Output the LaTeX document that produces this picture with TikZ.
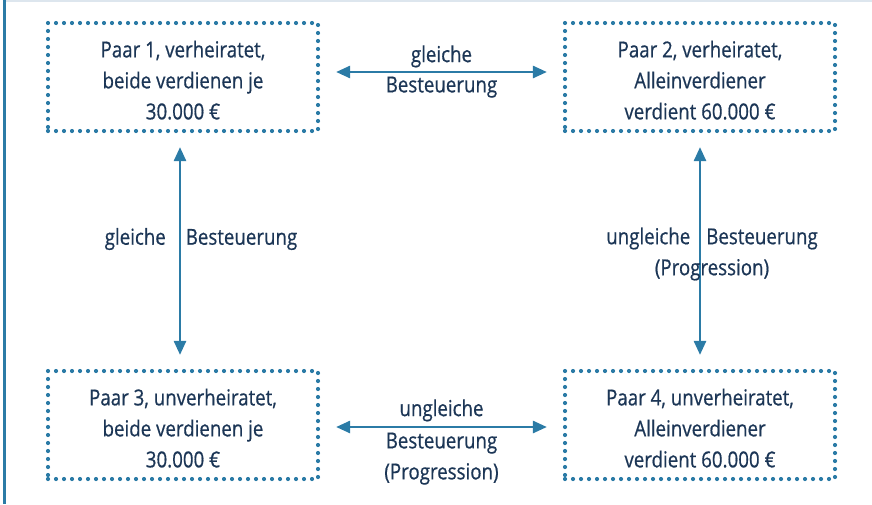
\documentclass[tikz,border=0pt]{standalone}
\usepackage{fontspec}
\setmainfont[FakeStretch=0.85, FakeBold=0.6]{Open Sans}
\usetikzlibrary{arrows.meta}

\definecolor{steuerblau}{HTML}{2B7BA6}
\definecolor{textblau}{HTML}{1C3656}
\definecolor{randgrau}{HTML}{DDE6EE}

\tikzset{
	paarbox/.style = {draw = steuerblau, line width = 4.2pt, line cap = round, dash pattern = on 0pt off 8pt,
		minimum width = 270pt, minimum height = 108pt, align = center, text = textblau,
		text height = 85pt, font = \fontsize{22}{31}\selectfont},
	beziehung/.style = {steuerblau, line width = 2.6pt, {Triangle[length = 14pt, width = 12pt]}-{Triangle[length = 14pt, width = 12pt]}},
	etikett/.style = {text = textblau, align = center, font = \fontsize{22}{31}\selectfont}
}

\begin{document}
\begin{tikzpicture}[x = 1pt, y = -1pt]

	\useasboundingbox (0, 0) rectangle (872, 504);

	% Rahmen
	
	\draw [randgrau, line width = 1.5pt] (5, 0.75) -- (872, 0.75);
	\draw [steuerblau, line width = 2.6pt] (4.5, 0) -- (4.5, 504);
	
	% Paare
	
	\node [paarbox] (paar1) at (183, 77) {Paar 1, verheiratet,\\beide verdienen je\\30.000 €};
	\node [paarbox] (paar2) at (700, 77) {Paar 2, verheiratet,\\Alleinverdiener\\verdient 60.000 €};
	\node [paarbox] (paar3) at (183, 425) {Paar 3, unverheiratet,\\beide verdienen je\\30.000 €};
	\node [paarbox] (paar4) at (700, 425) {Paar 4, unverheiratet,\\Alleinverdiener\\verdient 60.000 €};
	
	% Vergleiche
	
	\draw [beziehung, shorten <= 16pt, shorten >= 16pt] ([yshift = 5pt] paar1.east) -- node [etikett, above = 0pt] {gleiche} node [etikett, below = 0pt] {Besteuerung} ([yshift = 5pt] paar2.west);
	\draw [beziehung, shorten <= 16pt, shorten >= 16pt] ([yshift = -2pt] paar3.east) -- node [etikett, above = 1pt] {ungleiche} node [etikett, below = 1pt] {Besteuerung\\(Progression)} ([yshift = -2pt] paar4.west);
	
	\draw [beziehung, shorten <= 14pt, shorten >= 14pt] ([xshift = -3pt] paar1.south) -- node [etikett, xshift = 21pt, yshift = 12pt] {gleiche\hspace{20pt}Besteuerung} ([xshift = -3pt] paar3.north);
	\draw [beziehung, shorten <= 14pt, shorten >= 14pt] (paar2.south) -- node [etikett, xshift = 12pt, yshift = -3pt] {ungleiche\hspace{16pt}Besteuerung\\(Progression)} (paar4.north);

\end{tikzpicture}
\end{document}
